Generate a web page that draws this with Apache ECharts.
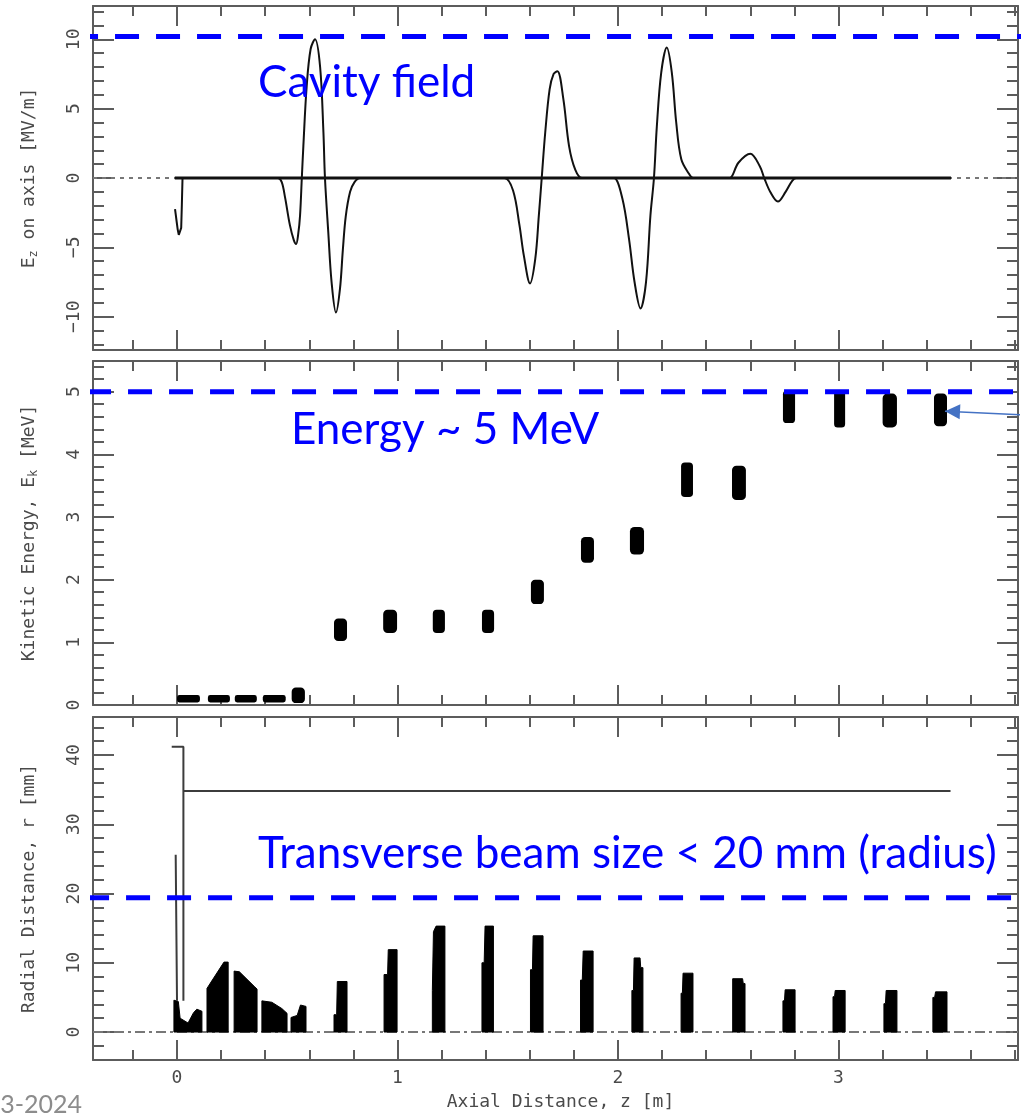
<!DOCTYPE html>
<html><head><meta charset="utf-8">
<script src="https://cdn.jsdelivr.net/npm/echarts@6/dist/echarts.min.js"></script>
<style>html,body{margin:0;padding:0;background:#fff}#c{width:1023px;height:1116px}</style>
</head><body><div id="c"></div>
<script>
// ---------- tick values ----------
const xMajorTicks = [0, 1, 2, 3];
const xMinorTicks = [-0.2, 0.2, 0.4, 0.6, 0.8, 1.2, 1.4, 1.6, 1.8, 2.2, 2.4, 2.6, 2.8, 3.2, 3.4, 3.6, 3.8];
const fieldMajorTicks = [-10, -5, 0, 5, 10];
const fieldMinorTicks = [-12, -11, -9, -8, -7, -6, -4, -3, -2, -1, 1, 2, 3, 4, 6, 7, 8, 9, 11, 12];
const energyMajorTicks = [0, 1, 2, 3, 4, 5];
const energyMinorTicks = [0.2, 0.4, 0.6, 0.8, 1.2, 1.4, 1.6, 1.8, 2.2, 2.4, 2.6, 2.8, 3.2, 3.4, 3.6, 3.8, 4.2, 4.4, 4.6, 4.8, 5.2, 5.4];
const radiusMajorTicks = [0, 10, 20, 30, 40];
const radiusMinorTicks = [-2, 2, 4, 6, 8, 12, 14, 16, 18, 22, 24, 26, 28, 32, 34, 36, 38, 42, 44];

// ---------- panel 1 : cavity field E_z (MV/m) vs z (m) ----------
const zeroField = [[-0.01, 0], [3.51, 0]];
const spikeField = [[-0.009, -2.25], [-0.006, -2.6], [-0.002, -3.1], [0.003, -3.7], [0.008, -4.1], [0.014, -4.2], [0.019, -3.6], [0.022, -1.9], [0.025, 0]];
const cavity1 = [[0.44, 0], [0.458, 0], [0.475, -0.3], [0.49, -1.4], [0.512, -3.4], [0.53, -4.5], [0.54, -4.75], [0.55, -4.0], [0.558, -2.7], [0.566, 0], [0.573, 2.3], [0.588, 6.6], [0.606, 9.3], [0.626, 10.0], [0.649, 8.0], [0.664, 3.3], [0.671, 0], [0.686, -3.9], [0.701, -7.5], [0.721, -9.7], [0.739, -8.0], [0.752, -5.2], [0.765, -2.8], [0.785, -1.0], [0.805, -0.3], [0.83, 0], [0.86, 0]];
const cavity2 = [[1.46, 0], [1.485, 0], [1.524, -0.9], [1.553, -3.4], [1.573, -5.6], [1.601, -7.6], [1.625, -5.8], [1.641, -2.7], [1.654, 0], [1.67, 3.3], [1.69, 6.4], [1.708, 7.5], [1.725, 7.7], [1.752, 5.7], [1.778, 2.3], [1.806, 0.6], [1.836, 0], [1.86, 0]];
const cavity3 = [[1.96, 0], [1.982, 0], [2.02, -1.5], [2.05, -4.4], [2.075, -7.5], [2.102, -9.4], [2.127, -7.5], [2.147, -2.7], [2.163, 0], [2.176, 3.7], [2.196, 7.6], [2.221, 9.4], [2.244, 7.6], [2.264, 4.0], [2.287, 1.35], [2.322, 0.3], [2.34, 0], [2.36, 0]];
const cavity4 = [[2.49, 0], [2.507, 0], [2.546, 1.1], [2.6, 1.75], [2.643, 0.85], [2.663, 0], [2.692, -1.05], [2.725, -1.7], [2.76, -1.0], [2.79, -0.2], [2.809, 0], [2.83, 0]];
const fieldLimit = [[-0.467, 10.2], [3.84, 10.2]];

// ---------- panel 2 : bunch kinetic energy (MeV): [z0, z1, Ek0, Ek1] ----------
const energyBunches = [
  [0.000, 0.104, 0.04, 0.16], [0.140, 0.240, 0.04, 0.16], [0.262, 0.362, 0.04, 0.16], [0.389, 0.493, 0.04, 0.16],
  [0.520, 0.580, 0.03, 0.28], [0.712, 0.771, 1.02, 1.38], [0.935, 0.998, 1.15, 1.52], [1.160, 1.215, 1.15, 1.52],
  [1.383, 1.438, 1.15, 1.52], [1.605, 1.664, 1.61, 2.00], [1.832, 1.891, 2.27, 2.68], [2.054, 2.118, 2.40, 2.84],
  [2.286, 2.340, 3.32, 3.87], [2.517, 2.580, 3.27, 3.82], [2.748, 2.803, 4.50, 5.02], [2.980, 3.030, 4.43, 5.02],
  [3.200, 3.265, 4.43, 4.97], [3.433, 3.492, 4.45, 4.97]
];
const energyLimit = [[-0.408, 5.0], [3.84, 5.0]];
const arrowFrom = [3.84, 4.63];
const arrowTo = [3.483, 4.69];

// ---------- panel 3 : radial envelope (mm), top profile of each bunch ----------
const envelopeBlobs = [
  [[-0.014, 4.6], [0.006, 4.4], [0.014, 2.0], [0.05, 1.3], [0.075, 2.8], [0.09, 3.3], [0.113, 3.0]],
  [[0.136, 6.3], [0.15, 7.0], [0.213, 10.1], [0.232, 10.1]],
  [[0.259, 8.8], [0.283, 8.7], [0.35, 6.6], [0.363, 6.2]],
  [[0.385, 4.5], [0.43, 4.3], [0.475, 3.4], [0.499, 2.7]],
  [[0.517, 2.1], [0.545, 2.4], [0.56, 3.9], [0.585, 3.7]],
  [[0.712, 2.5], [0.724, 2.5], [0.727, 7.3], [0.771, 7.3]],
  [[0.939, 8.3], [0.955, 8.3], [0.958, 11.9], [0.998, 11.9]],
  [[1.158, 6.0], [1.163, 14.5], [1.175, 15.3], [1.215, 15.3]],
  [[1.383, 10.0], [1.393, 10.0], [1.397, 15.3], [1.435, 15.3]],
  [[1.603, 9.0], [1.612, 9.0], [1.615, 13.9], [1.66, 13.9]],
  [[1.830, 7.5], [1.838, 7.5], [1.842, 11.7], [1.887, 11.7]],
  [[2.063, 6.0], [2.07, 6.0], [2.073, 10.7], [2.10, 10.7], [2.103, 9.3], [2.113, 9.3]],
  [[2.286, 5.6], [2.292, 5.6], [2.295, 8.5], [2.34, 8.5]],
  [[2.52, 7.7], [2.565, 7.7], [2.568, 7.0], [2.576, 7.0]],
  [[2.748, 4.5], [2.755, 4.5], [2.758, 6.1], [2.803, 6.1]],
  [[2.975, 5.1], [2.982, 5.1], [2.985, 6.0], [3.03, 6.0]],
  [[3.206, 4.1], [3.213, 4.1], [3.216, 6.0], [3.265, 6.0]],
  [[3.428, 5.0], [3.436, 5.0], [3.44, 5.8], [3.492, 5.8]]
];
const aperture = [[-0.024, 41.2], [0.029, 41.2], [0.029, 4.5], null, [0.029, 34.8], [3.508, 34.8], null, [-0.006, 25.6], [0.0, 25.6], [0.0, 4.5]];
const radiusLimit = [[-0.417, 19.4], [3.84, 19.4]];

// ---------- layout / style ----------
const X_MIN = -0.381, X_MAX = 3.814;
const yRanges = [[-12.4, 12.4], [0, 5.49], [-4.04, 45.5]];
const yMajor = [fieldMajorTicks, energyMajorTicks, radiusMajorTicks];
const yMinor = [fieldMinorTicks, energyMinorTicks, radiusMinorTicks];
const yNames = ['{t|E}{s|z}{t| on axis [MV/m]}', '{t|Kinetic Energy, E}{s|k}{t| [MeV]}', '{t|Radial Distance, r [mm]}'];
const grids = [
  { left: 93, top: 6, width: 925, height: 344 },
  { left: 93, top: 361, width: 925, height: 344 },
  { left: 93, top: 717, width: 925, height: 343 }
];
const AX = '#5c5c5c', TXT = '#4a4a4a';
const MONO = '"DejaVu Sans Mono", monospace';
const BLUE = '#0000ff';
const minus = v => String(v).replace('-', '\u2212');
const tickStyle = { color: AX, width: 2 };
const richName = {
  t: { fontFamily: MONO, fontSize: 18, color: TXT, lineHeight: 24 },
  s: { fontFamily: MONO, fontSize: 12, color: TXT, lineHeight: 24, padding: [10, 0, 0, 0] }
};

const xAxes = [], yAxes = [];
grids.forEach((g, i) => {
  const xb = { gridIndex: i, type: 'value', min: X_MIN, max: X_MAX, splitLine: { show: false } };
  ['bottom', 'top'].forEach(pos => {
    xAxes.push(Object.assign({}, xb, {
      position: pos,
      axisLine: { show: true, onZero: false, lineStyle: { color: AX, width: 2 } },
      axisTick: { inside: true, length: 20, customValues: xMajorTicks, lineStyle: tickStyle },
      axisLabel: { show: pos === 'bottom' && i === 2, customValues: xMajorTicks, margin: 9, fontFamily: MONO, fontSize: 18, color: TXT },
      name: pos === 'bottom' && i === 2 ? 'Axial Distance, z [m]' : '',
      nameLocation: 'middle', nameGap: 33,
      nameTextStyle: { fontFamily: MONO, fontSize: 18, color: TXT, padding: [0, 0, 0, 10] }
    }));
    xAxes.push(Object.assign({}, xb, {
      position: pos,
      axisLine: { show: false, onZero: false },
      axisTick: { inside: true, length: 10, customValues: xMinorTicks, lineStyle: tickStyle },
      axisLabel: { show: false }
    }));
  });
  const yb = { gridIndex: i, type: 'value', min: yRanges[i][0], max: yRanges[i][1], splitLine: { show: false } };
  ['left', 'right'].forEach(pos => {
    yAxes.push(Object.assign({}, yb, {
      position: pos,
      axisLine: { show: true, onZero: false, lineStyle: { color: AX, width: 2 } },
      axisTick: { inside: true, length: 21, customValues: yMajor[i], lineStyle: tickStyle },
      axisLabel: { show: pos === 'left', customValues: yMajor[i], rotate: 90, margin: 10, fontFamily: MONO, fontSize: 18, color: TXT, formatter: minus },
      name: pos === 'left' ? yNames[i] : '',
      nameLocation: 'middle', nameGap: 52,
      nameTextStyle: { fontFamily: MONO, fontSize: 18, color: TXT, rich: richName }
    }));
    yAxes.push(Object.assign({}, yb, {
      position: pos,
      axisLine: { show: false, onZero: false },
      axisTick: { inside: true, length: 11, customValues: yMinor[i], lineStyle: tickStyle },
      axisLabel: { show: false }
    }));
  });
});

const ax = i => ({ xAxisIndex: i * 4, yAxisIndex: i * 4 });
const plainLine = (i, data, color, w, type, z, extra) => Object.assign({
  type: 'line', data: data, symbol: 'none', silent: true, z: z,
  lineStyle: { color: color, width: w, type: type }
}, ax(i), extra || {});
const limitLine = (i, data) => plainLine(i, data, BLUE, 5, [24, 17], 20, { clip: false });
const fullSpan = [[X_MIN, 0], [X_MAX, 0]];

const series = [
  // panel 1
  plainLine(0, fullSpan, '#777', 2, [4, 5], 1),
  plainLine(0, zeroField, '#111', 3, 'solid', 3),
  plainLine(0, spikeField, '#111', 2, 'solid', 4),
  plainLine(0, cavity1.concat(cavity2, cavity3, cavity4), '#111', 2, 'solid', 4, { smooth: 0.35 }),
  limitLine(0, fieldLimit),
  // panel 2
  Object.assign({
    type: 'custom', silent: true, z: 3, data: energyBunches,
    encode: { x: [0, 1], y: [2, 3] },
    renderItem: (p, api) => {
      const a = api.coord([api.value(0), api.value(3)]);
      const b = api.coord([api.value(1), api.value(2)]);
      const w = b[0] - a[0], h = b[1] - a[1];
      return { type: 'rect', shape: { x: a[0], y: a[1], width: w, height: h, r: Math.min(w, h) * 0.32 }, style: { fill: '#000' } };
    }
  }, ax(1)),
  limitLine(1, energyLimit),
  plainLine(1, [arrowFrom, arrowTo], '#4472c4', 1.5, 'solid', 21, { clip: false }),
  Object.assign({
    type: 'custom', silent: true, z: 22, clip: false, data: [arrowTo.concat(arrowFrom)],
    renderItem: (p, api) => {
      const tip = api.coord([api.value(0), api.value(1)]);
      const tail = api.coord([api.value(2), api.value(3)]);
      const ang = Math.atan2(tip[1] - tail[1], tip[0] - tail[0]);
      const L = 15, W = 7.5;
      const bx = tip[0] - L * Math.cos(ang), by = tip[1] - L * Math.sin(ang);
      const nx = -Math.sin(ang) * W, ny = Math.cos(ang) * W;
      return { type: 'polygon', shape: { points: [tip, [bx + nx, by + ny], [bx - nx, by - ny]] }, style: { fill: '#4472c4' } };
    }
  }, ax(1)),
  // panel 3
  plainLine(2, fullSpan, '#777', 2, [10, 4, 3, 4], 1),
  Object.assign({
    type: 'custom', silent: true, z: 3, data: envelopeBlobs.map(b => b[0]),
    renderItem: (p, api) => {
      const blob = envelopeBlobs[p.dataIndex];
      const pts = [api.coord([blob[0][0], 0])];
      blob.forEach(q => pts.push(api.coord(q)));
      pts.push(api.coord([blob[blob.length - 1][0], 0]));
      return { type: 'polygon', shape: { points: pts }, style: { fill: '#000', stroke: '#000', lineWidth: 1 } };
    }
  }, ax(2)),
  plainLine(2, aperture, '#3c3c3c', 2, 'solid', 4, { connectNulls: false }),
  limitLine(2, radiusLimit)
];

const chart = echarts.init(document.getElementById('c'), null, { renderer: 'canvas' });
chart.setOption({
  animation: false,
  backgroundColor: '#fff',
  grid: grids,
  xAxis: xAxes,
  yAxis: yAxes,
  series: series,
  graphic: [
    { type: 'text', x: 258, y: 83, silent: true, z: 30, style: { text: 'Cavity field', font: '44px Lato', fill: BLUE, textVerticalAlign: 'middle' } },
    { type: 'text', x: 291, y: 430, silent: true, z: 30, style: { text: 'Energy ~ 5 MeV', font: '44px Lato', fill: BLUE, textVerticalAlign: 'middle' } },
    { type: 'text', x: 258, y: 854, silent: true, z: 30, style: { text: 'Transverse beam size < 20 mm (radius)', font: '44px Lato', fill: BLUE, textVerticalAlign: 'middle' } },
    { type: 'text', x: 82, y: 1105, silent: true, z: 30, style: { text: '3-2024', font: '25px Lato', fill: '#8c8c8c', textAlign: 'right', textVerticalAlign: 'middle' } }
  ]
});
</script></body></html>
